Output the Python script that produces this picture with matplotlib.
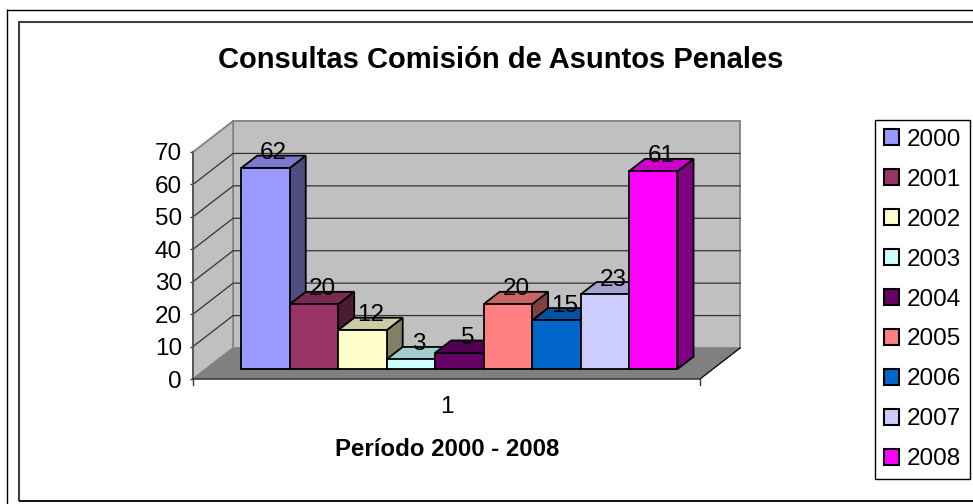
import matplotlib
matplotlib.use("Agg")
import matplotlib.pyplot as plt
from matplotlib.lines import Line2D
from matplotlib.patches import Patch

plt.rcParams['font.family'] = ['Liberation Sans', 'DejaVu Sans']

years = ['2000', '2001', '2002', '2003', '2004', '2005', '2006', '2007', '2008']
consultas = [62, 20, 12, 3, 5, 20, 15, 23, 61]
colores = ['#9999FF', '#993366', '#FFFFCC', '#CCFFFF', '#660066',
           '#FF8080', '#0066CC', '#CCCCFF', '#FF00FF']
colores_top = ['#7A7ACC', '#7A2952', '#CCCCA3', '#A3CCCC', '#520052',
               '#CC6666', '#0052A3', '#A3A3CC', '#CC00CC']
colores_side = ['#4D4D80', '#4D1A33', '#808066', '#668080', '#330033',
                '#804040', '#003366', '#666680', '#800080']
yticks = [0, 10, 20, 30, 40, 50, 60, 70]

W, H = 973, 504
# depth of the chart box, in data units (40 px across, 31 px up)
DX = 40 / 48.3
DY = 31 / 3.243
BAR_FRONT = 0.32
BAR_BACK = 0.72
LEFT_PAD = 0.73


def proj(x, y, d):
    return x + d * DX, y + d * DY


def face(ax, pts, color, z, edge='none', lw=0):
    xs = [p[0] for p in pts]
    ys = [p[1] for p in pts]
    ax.fill(xs, ys, facecolor=color, edgecolor=edge, linewidth=lw, zorder=z,
            clip_on=False, joinstyle='miter')


def frame_line(fig, xs, ys, color, lw):
    fig.add_artist(Line2D([x / W for x in xs], [1 - y / H for y in ys], color=color,
                          linewidth=lw, transform=fig.transFigure,
                          solid_capstyle='butt'))


fig = plt.figure(figsize=(W / 100, H / 100), dpi=100, facecolor='white')

# the two frames run off the right and bottom of the picture
frame_line(fig, [6.5, 6.5], [9, H], 'black', 1)
frame_line(fig, [6.5, W], [9.5, 9.5], 'black', 1)
frame_line(fig, [18.5, 18.5], [21, 501], '#404040', 1.5)
frame_line(fig, [18.5, W], [21.5, 21.5], '#404040', 1.5)
frame_line(fig, [18.5, W], [501, 501], 'black', 1.3)

ax = fig.add_axes([193 / W, 1 - 379 / H, 507 / W, 227 / H])
x0 = -0.5 - LEFT_PAD
x1 = len(years) - 0.5 + LEFT_PAD
ax.set_xlim(x0, x1)
ax.set_ylim(0, 70)
ax.patch.set_visible(False)
for s in ax.spines.values():
    s.set_visible(False)

# walls and floor
top = yticks[-1]
face(ax, [proj(x0, 0, 1), proj(x1, 0, 1), proj(x1, top, 1), proj(x0, top, 1)],
     '#C0C0C0', 1, '#808080', 1.3)
face(ax, [proj(x0, 0, 0), proj(x0, 0, 1), proj(x0, top, 1), proj(x0, top, 0)],
     '#C0C0C0', 1, '#808080', 1.3)
face(ax, [proj(x0, 0, 0), proj(x1, 0, 0), proj(x1, 0, 1), proj(x0, 0, 1)],
     '#808080', 1)

# gridlines
for t in yticks[1:-1]:
    a = proj(x0, t, 0)
    b = proj(x0, t, 1)
    c = proj(x1, t, 1)
    ax.plot([a[0], b[0], c[0]], [a[1], b[1], c[1]], color='#333333', lw=0.9,
            zorder=2, clip_on=False, solid_joinstyle='miter')
a = proj(x1, 0, 0)
b = proj(x1, 0, 1)
ax.plot([a[0], b[0]], [a[1], b[1]], color='black', lw=0.9, zorder=2, clip_on=False)

# axis lines
ax.plot([x0, x0], [0, top], color='#555555', lw=1.3, zorder=3, clip_on=False)
ax.plot([x0, x1], [0, 0], color='#333333', lw=1.1, zorder=3, clip_on=False)
ax.set_yticks(yticks)
ax.set_xticks([(x0 + x1) / 2])
ax.set_xticklabels(['1'])
ax.tick_params(axis='y', labelsize=17.5, length=2.5, width=1, color='#333333', pad=5.5)
ax.tick_params(axis='x', labelsize=17.5, length=0, pad=12)
ax.plot([x0, x0], [0, -1.8], color='#333333', lw=1, clip_on=False, zorder=3)
ax.plot([x1, x1], [0, -1.8], color='#333333', lw=1, clip_on=False, zorder=3)

# bars, left to right so each one covers the side of the previous one
base = BAR_FRONT * DY
for i, v in enumerate(consultas):
    z = 5 + i
    l = i - 0.5 + BAR_FRONT * DX
    r = i + 0.5 + BAR_FRONT * DX
    d = BAR_BACK - BAR_FRONT
    face(ax, [(r, base), (r + d * DX, base + d * DY),
              (r + d * DX, base + v + d * DY), (r, base + v)],
         colores_side[i], z, 'black', 1.3)
    face(ax, [(l, base + v), (r, base + v),
              (r + d * DX, base + v + d * DY), (l + d * DX, base + v + d * DY)],
         colores_top[i], z, 'black', 1.3)
    ax.bar(l + 0.5, v, width=1, bottom=base, color=colores[i], edgecolor='black',
           linewidth=1.3, zorder=z + 0.5, clip_on=False, label=years[i])
    ax.text(l + 0.5 + 0.5 * d * DX, base + v + 4.6, str(v), ha='center', va='center',
            fontsize=17.5, color='black', zorder=30)

# titles
fig.text(501 / W, 1 - 60 / H, 'Consultas Comisión de Asuntos Penales', ha='center',
         va='center', fontsize=21, fontweight='bold')
fig.text(447.5 / W, 1 - 450 / H, 'Período 2000 - 2008', ha='center', va='center',
         fontsize=17.3, fontweight='bold')

# legend
handles = [Patch(facecolor=c, edgecolor='black', linewidth=1.5, label=y)
           for c, y in zip(colores, years)]
leg = fig.legend(handles=handles, loc='center left',
                 bbox_to_anchor=(875 / W, 1 - 299.5 / H), frameon=True, fontsize=17.5,
                 handlelength=0.62, handleheight=0.62, handletextpad=0.33,
                 labelspacing=0.74, borderpad=0.36, borderaxespad=0, fancybox=False,
                 edgecolor='black', framealpha=1)
leg.get_frame().set_linewidth(1)

fig.savefig('out.png', dpi=100)
